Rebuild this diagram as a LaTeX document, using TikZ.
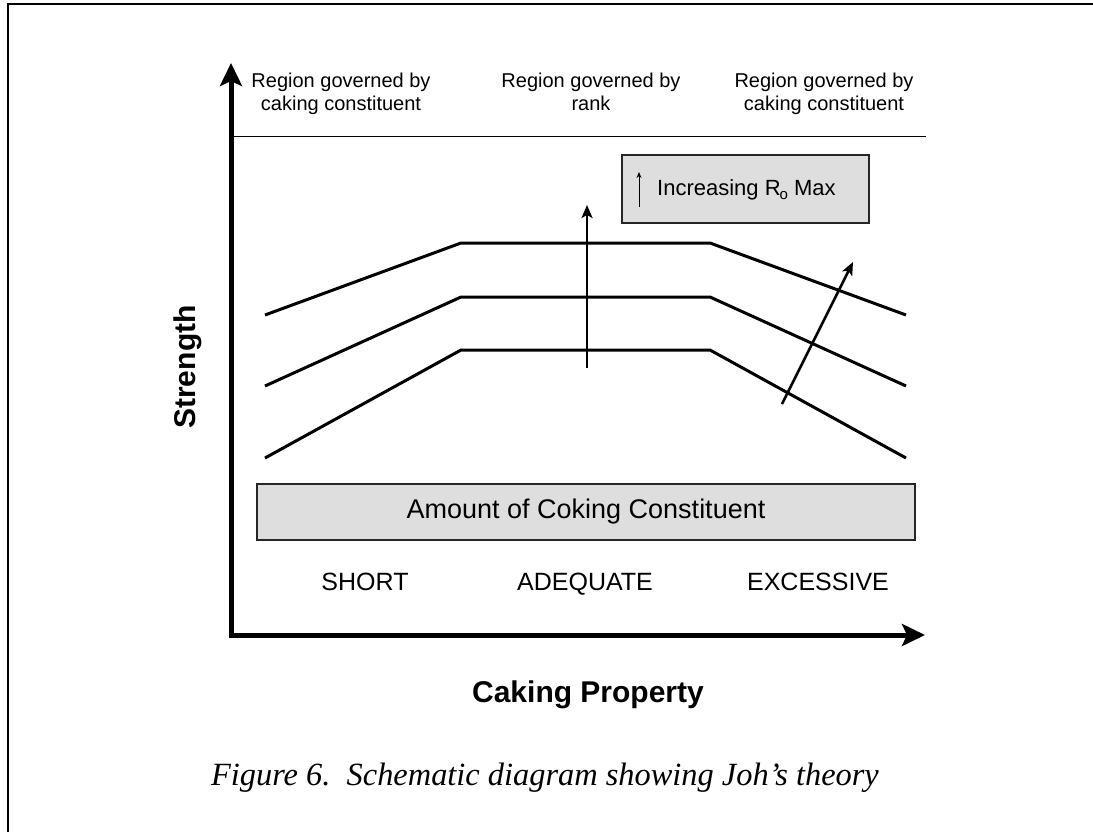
\documentclass[tikz,border=0pt]{standalone}
\usepackage{fontspec}
\setmainfont{Liberation Sans}
\newfontfamily\capfont{Liberation Serif}
\usetikzlibrary{arrows.meta}
\begin{document}
\begin{tikzpicture}[x=1pt,y=-1pt,
  curve/.style={line width=3pt, line join=miter},
  axis/.style={line width=5pt, line join=miter},
  axtip/.tip={Stealth[length=23pt,width=22pt,inset=5pt]},
  riser/.style={line width=2.5pt, -{Stealth[length=13pt,width=11pt,inset=3pt]}},
  graybox/.style={draw=black!85, line width=1.3pt, fill=black!13, inner sep=0pt},
  region/.style={font=\fontsize{20}{23}\selectfont, align=center, anchor=base, inner sep=0pt},
  level/.style={font=\fontsize{25}{28}\selectfont, anchor=base, inner sep=0pt},
  axlabel/.style={font=\fontsize{30}{34}\selectfont\bfseries, anchor=base, inner sep=0pt}
]
\useasboundingbox (0,0) rectangle (1093,831);
% outer frame (only top and left edges visible)
\draw[line width=1.5pt] (8,1000) -- (8,4) -- (1200,4);

% axes
\coordinate (O) at (231,635);
\coordinate (ytip) at (231,63);
\coordinate (xtip) at (925,635);
\draw[axis, {axtip}-{axtip}] (ytip) -- (O) -- (xtip);

% thin separator line
\coordinate (sepL) at (231,136);
\coordinate (sepR) at (926,136);
\draw[line width=1pt] (sepL) -- (sepR);

% region labels
\node[region] (r1) at (341,110) {Region governed by\\caking constituent};
\node[region] (r2) at (591,110) {Region governed by\\rank};
\node[region] (r3) at (824,110) {Region governed by\\caking constituent};

% strength curves
\draw[curve] (265,315) -- (461,243) -- (710,243) -- (906,315);
\draw[curve] (265,386) -- (461,297) -- (710,297) -- (906,386);
\draw[curve] (265,458) -- (461,350) -- (710,350) -- (906,458);

% rank arrows
\draw[riser] (587,368) -- (587,205);
\draw[riser] (782,404) -- (853,262);

% Increasing Ro Max box
\node[graybox, minimum width=247pt, minimum height=68pt] (incbox) at (745.5,189) {};
\draw[line width=1pt, -{Stealth[length=6pt,width=5pt]}] (639,207) -- (639,172);
\node[anchor=base west, inner sep=0pt, font=\fontsize{22}{26}\selectfont] (inctext) at (657,195)
  {Increasing R\kern-0.05em\raisebox{-0.35ex}{\fontsize{15}{15}\selectfont o} Max};

% amount box
\node[graybox, minimum width=658pt, minimum height=56pt,
  font=\fontsize{27}{30}\selectfont] (amount) at (586,512) {Amount of Coking Constituent};

% level labels
\node[level] (short) at (365,590) {SHORT};
\node[level] (adeq) at (585,590) {ADEQUATE};
\node[level] (exc) at (818,590) {EXCESSIVE};

% axis titles
\node[axlabel, rotate=90] (strength) at (195,367) {Strength};
\node[axlabel] (caking) at (588,702) {Caking Property};

% caption
\node[anchor=base, inner sep=0pt, font=\capfont\itshape\fontsize{32.4}{36}\selectfont] (caption) at (545,785)
  {Figure 6.\ \ Schematic diagram showing Joh’s theory};
\end{tikzpicture}
\end{document}
